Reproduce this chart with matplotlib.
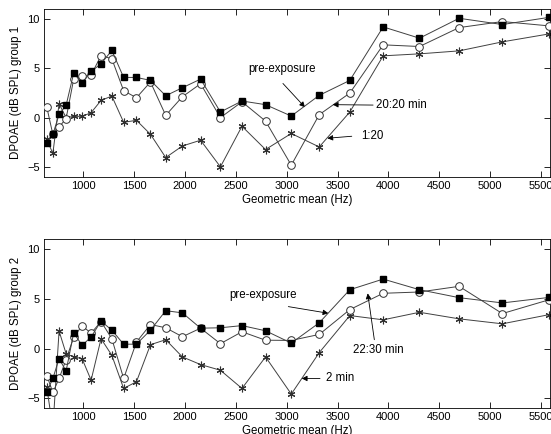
import matplotlib
matplotlib.use("Agg")
import matplotlib.pyplot as plt

plt.rcParams['font.family'] = ['Liberation Sans', 'DejaVu Sans']

freq = [640, 700, 761, 830, 905, 987, 1076, 1174, 1280, 1396, 1522, 1660, 1810,
        1974, 2153, 2348, 2560, 2792, 3045, 3320, 3621, 3949, 4306, 4696, 5121, 5585]

g1_pre = [-2.55, -1.7, 0.33, 1.24, 4.5, 3.5, 4.66, 5.44, 6.78, 4.06, 4.06, 3.76, 2.21,
          3.02, 3.89, 0.57, 1.68, 1.31, 0.16, 2.25, 3.76, 9.16, 8.02, 10.03, 9.4, 10.13]
g1_late = [1.07, -1.7, -0.94, -0.1, 3.9, 4.16, 4.3, 6.27, 5.94, 2.72, 2.01, 3.6, 0.23,
           2.11, 3.42, 0.0, 1.6, -0.35, -4.8, 0.3, 2.48, 7.35, 7.18, 9.09, 9.7, 9.26]
g1_early = [-2.2, -3.62, 1.41, 0.0, 0.13, 0.13, 0.5, 1.74, 2.18, -0.47, -0.27, -1.68, -4.03,
            -2.86, -2.28, -4.97, -0.87, -3.22, -1.6, -2.96, 0.57, 6.24, 6.44, 6.74, 7.65, 8.46]

g2_pre = [-4.34, -3.0, -1.0, -2.26, 1.6, 0.33, 1.17, 2.77, 1.86, 0.45, 0.45, 1.86, 3.82,
          3.6, 2.06, 2.1, 2.32, 1.8, 0.56, 2.6, 5.93, 7.0, 5.93, 5.13, 4.6, 5.16]
g2_late = [-2.7, -4.4, -3.0, -1.1, 1.16, 2.3, 1.56, 2.73, 1.0, -3.0, 0.66, 2.43, 2.1,
           1.2, 2.06, 0.5, 1.7, 0.85, 0.83, 1.43, 3.93, 5.57, 5.7, 6.27, 3.53, 4.93]
g2_early = [-3.9, -8.0, 1.77, -0.5, -0.83, -1.0, -3.17, 1.0, -0.67, -4.0, -3.33, 0.4, 0.9,
            -0.83, -1.6, -2.17, -4.0, -0.83, -4.57, -0.4, 3.33, 2.9, 3.66, 3.0, 2.5, 3.43]

xticks = [1000, 1500, 2000, 2500, 3000, 3500, 4000, 4500, 5000, 5500]
yticks = [-5, 0, 5, 10]
xlabel = "Geometric mean (Hz)"
ylabels = ["DPOAE (dB SPL) group 1", "DPOAE (dB SPL) group 2"]

fig = plt.figure(figsize=(5.51, 4.34), dpi=100)
ax1 = fig.add_axes([0.0799, 0.592, 0.9183, 0.388])
ax2 = fig.add_axes([0.0799, 0.0592, 0.9183, 0.3894])

lc = '#404040'
lw = 0.7
fs = 8.3
tfs = 8.0

def draw(ax, pre, late, early, ylab):
    ax.plot(freq, early, color=lc, lw=lw, marker=(6, 2, 0), ms=5.5, mec='#303030',
            mew=0.8, zorder=2)
    ax.plot(freq, late, color=lc, lw=lw, marker='o', ms=5.5, mfc='white', mec='#303030',
            mew=0.7, zorder=3)
    ax.plot(freq, pre, color=lc, lw=lw, marker='s', ms=5, mfc='black', mec='black',
            zorder=4)
    ax.set_xlim(613, 5590)
    ax.set_ylim(-6, 11)
    ax.set_xticks(xticks)
    ax.set_yticks(yticks)
    ax.tick_params(direction='in', top=True, right=True, labelsize=tfs, length=4,
                   width=0.6, pad=3)
    for s in ax.spines.values():
        s.set_linewidth(0.6)
    ax.set_xlabel(xlabel, fontsize=fs, labelpad=2)
    ax.set_ylabel(ylab, fontsize=fs, labelpad=4)

draw(ax1, g1_pre, g1_late, g1_early, ylabels[0])
draw(ax2, g2_pre, g2_late, g2_early, ylabels[1])

ap = dict(arrowstyle='-|>', color='black', lw=0.6, mutation_scale=8, shrinkA=0, shrinkB=0)

# top panel annotations
ax1.text(2620, 4.86, "pre-exposure", fontsize=fs, va='center', ha='left')
ax1.annotate("", xy=(3180, 1.04), xytext=(2963, 3.45), arrowprops=ap)
ax1.annotate("20:20 min", xy=(3453, 1.31), xytext=(3877, 1.24), fontsize=fs,
             va='center', ha='left', arrowprops=ap)
ax1.annotate("", xy=(3400, -2.08), xytext=(3640, -1.88), arrowprops=ap)
ax1.text(3728, -1.88, "1:20", fontsize=fs, va='center', ha='left')

# bottom panel annotations
ax2.text(2436, 5.4, "pre-exposure", fontsize=fs, va='center', ha='left')
ax2.annotate("", xy=(3410, 3.56), xytext=(3016, 4.23), arrowprops=ap)
ax2.annotate("", xy=(3797, 5.56), xytext=(3862, 0.9), arrowprops=ap)
ax2.text(3650, -0.1, "22:30 min", fontsize=fs, va='center', ha='left')
ax2.annotate("", xy=(3148, -3.0), xytext=(3328, -3.0), arrowprops=ap)
ax2.text(3387, -3.0, "2 min", fontsize=fs, va='center', ha='left')

fig.savefig("out.png", dpi=100)
